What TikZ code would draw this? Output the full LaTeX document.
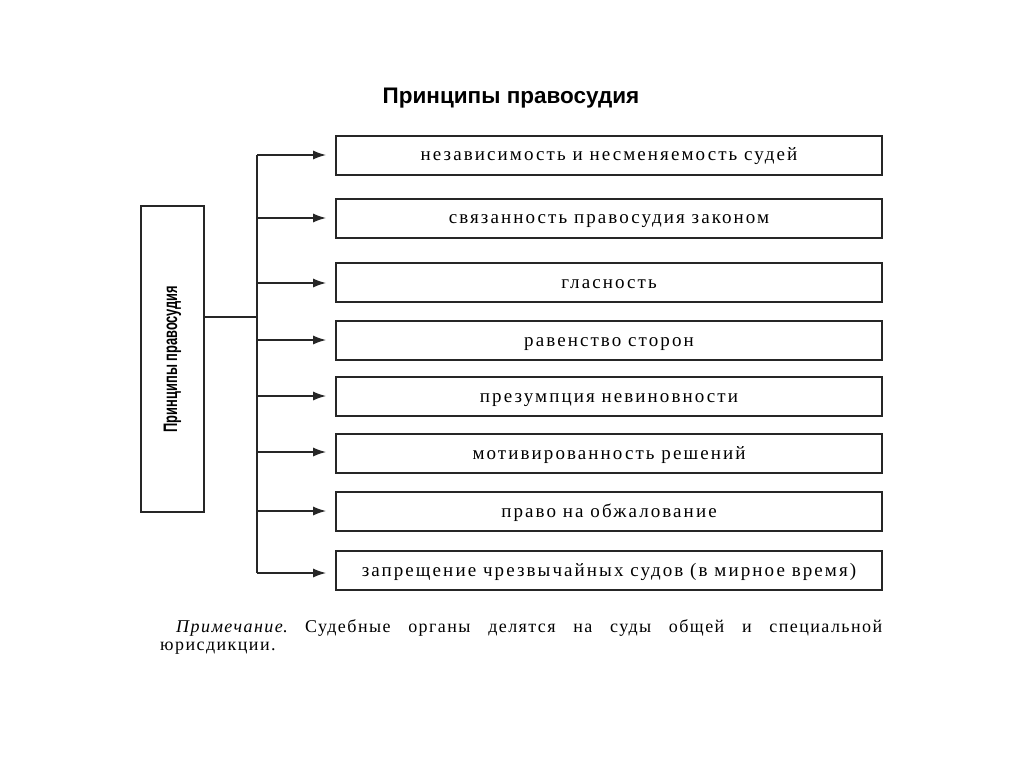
\documentclass[tikz,border=0pt]{standalone}
\usepackage{fontspec}
\setmainfont{Liberation Serif}
\newfontfamily\titlefont{Liberation Sans}
\newfontfamily\narrowfont{Liberation Sans}[FakeStretch=0.66]
\newfontfamily\boxfont{Liberation Serif}[LetterSpace=11]
\newfontfamily\notefont{Liberation Serif}[LetterSpace=8]
\usetikzlibrary{arrows.meta}
\tikzset{
  line/.style={draw=black!85, line width=1.6pt},
  itembox/.style={line, minimum width=546pt, minimum height=39pt, inner sep=0pt,
    text height=11pt, text depth=0pt,
    font=\boxfont\fontsize{19}{22}\selectfont, text=black},
  arr/.style={line, -{Latex[length=13pt,width=9pt]}, shorten >=9pt},
}
\begin{document}
\frenchspacing
\begin{tikzpicture}[x=1pt,y=-1pt]
\useasboundingbox[fill=white] (0,0) rectangle (1024,767);
\node[font=\titlefont\bfseries\fontsize{22.5}{26}\selectfont] (title) at (511,98) {Принципы правосудия};
\node[line, minimum width=63pt, minimum height=306pt, inner sep=0pt] (L) at (172.5,359) {};
\node[rotate=90, font=\narrowfont\bfseries\fontsize{19.5}{22}\selectfont] (Lt) at (L.center) {Принципы правосудия};
\node[itembox] (b1) at (609,155.5) {независимость и несменяемость судей};
\node[itembox] (b2) at (609,218.5) {связанность правосудия законом};
\node[itembox] (b3) at (609,282.5) {гласность};
\node[itembox] (b4) at (609,340.5) {равенство сторон};
\node[itembox] (b5) at (609,396.5) {презумпция невиновности};
\node[itembox] (b6) at (609,453.5) {мотивированность решений};
\node[itembox] (b7) at (609,511.5) {право на обжалование};
\node[itembox] (b8) at (609,570.5) {запрещение чрезвычайных судов (в мирное время)};
\coordinate (j) at (257,317);
\foreach \i/\y in {1/155,2/218,3/283,4/340,5/396,6/452,7/511,8/573}{
  \coordinate (t\i) at (257,\y);
  \draw[arr] (t\i) -- (t\i -| b\i.west);
}
\draw[line] (t1) -- (t8);
\draw[line] (L.east |- j) -- (j);
\node[anchor=base west, inner sep=0pt, font=\notefont\fontsize{18}{21}\selectfont] (n1) at (176,632)
  {\makebox[706pt][s]{\textit{Примечание}. Судебные органы делятся на суды общей и специальной}};
\node[anchor=base west, inner sep=0pt, font=\notefont\fontsize{18}{21}\selectfont] (n2) at (160,650) {юрисдикции.};
\end{tikzpicture}
\end{document}
